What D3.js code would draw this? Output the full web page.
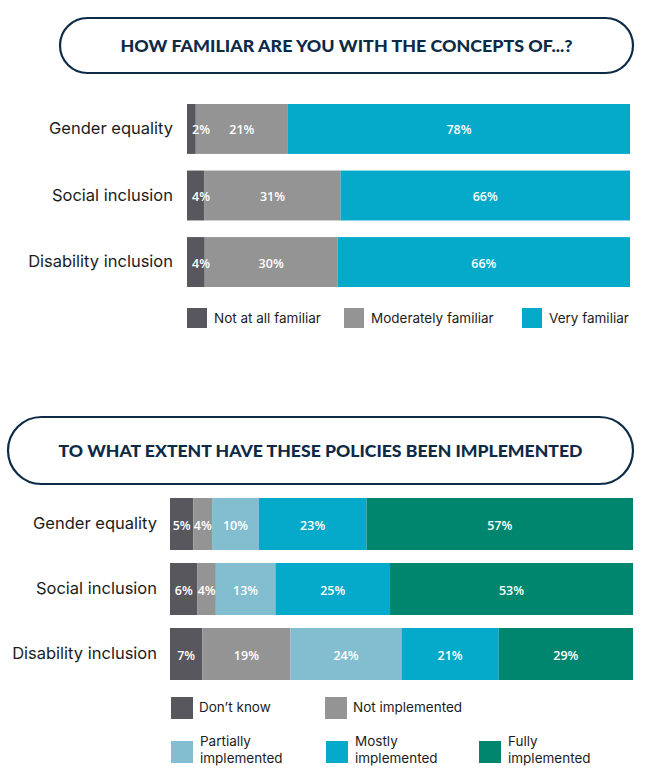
<!DOCTYPE html>
<html>
<head>
<meta charset="utf-8">
<script src="https://cdn.jsdelivr.net/npm/d3@7"></script>
<style>
  html, body { margin: 0; padding: 0; background: #fff; }
  svg { display: block; }
</style>
</head>
<body>
<svg id="chart" width="649" height="776"></svg>
<script>
// ---------- DATA ----------
const title1 = "HOW FAMILIAR ARE YOU WITH THE CONCEPTS OF...?";
const title2 = "TO WHAT EXTENT HAVE THESE POLICIES BEEN IMPLEMENTED";

const categories = ["Gender equality", "Social inclusion", "Disability inclusion"];

const familiarSeries = ["Not at all familiar", "Moderately familiar", "Very familiar"];
const notAtAllFamiliar = [2, 4, 4];
const moderatelyFamiliar = [21, 31, 30];
const veryFamiliar = [78, 66, 66];

const implSeries = ["Don\u2019t know", "Not implemented", "Partially implemented", "Mostly implemented", "Fully implemented"];
const dontKnow = [5, 6, 7];
const notImplemented = [4, 4, 19];
const partiallyImplemented = [10, 13, 24];
const mostlyImplemented = [23, 25, 21];
const fullyImplemented = [57, 53, 29];

// ---------- STYLE ----------
const navy = "#0d2b47";
const familiarColors = ["#57575d", "#949494", "#05a9c9"];
const implColors = ["#57575d", "#949494", "#82bdd0", "#05a9c9", "#00866f"];
const labelFont = "Inter, 'Noto Sans', sans-serif";
const valueFont = "'Open Sans', 'Noto Sans', sans-serif";

const svg = d3.select("#chart");

function pill(x, y, w, h, text, tl) {
  svg.append("rect")
    .attr("x", x).attr("y", y).attr("width", w).attr("height", h)
    .attr("rx", h / 2).attr("ry", h / 2)
    .attr("fill", "#fff").attr("stroke", navy).attr("stroke-width", 2.2);
  svg.append("text")
    .attr("x", x + w / 2).attr("y", y + h / 2)
    .attr("text-anchor", "middle").attr("dominant-baseline", "central")
    .attr("fill", navy)
    .attr("font-family", "Lato, 'Noto Sans', sans-serif")
    .attr("font-weight", 900).attr("font-size", 17.5)
    .attr("textLength", tl).attr("lengthAdjust", "spacingAndGlyphs")
    .text(text);
}

function stackedChart(opts) {
  const rows = categories.map((c, i) => {
    const o = { cat: c };
    opts.series.forEach((s, j) => { o[s] = opts.values[j][i]; });
    return o;
  });
  const stack = d3.stack().keys(opts.series).offset(d3.stackOffsetExpand);
  const layers = stack(rows);

  const x = d3.scaleLinear().domain([0, 1]).range(opts.xRange);
  const y = d3.scaleBand().domain(categories).range(opts.yRange).paddingInner(opts.pad);
  const color = d3.scaleOrdinal().domain(opts.series).range(opts.colors);

  const g = svg.append("g");
  const barG = g.append("g");
  const labG = g.append("g");
  layers.forEach((layer, j) => {
    barG.append("g").selectAll("rect").data(layer).join("rect")
      .attr("x", d => x(d[0]))
      .attr("y", d => y(d.data.cat))
      .attr("width", d => x(d[1]) - x(d[0]))
      .attr("height", y.bandwidth())
      .attr("fill", color(layer.key));
    labG.append("g").selectAll("text").data(layer).join("text")
      .attr("x", d => {
        const c = (x(d[0]) + x(d[1])) / 2;
        return j === 0 ? Math.max(c, x(d[0]) + opts.minLabelOffset) : c;
      })
      .attr("y", d => y(d.data.cat) + y.bandwidth() / 2 + 1)
      .attr("text-anchor", "middle").attr("dominant-baseline", "central")
      .attr("fill", "#fff")
      .attr("font-family", valueFont).attr("font-weight", 600)
      .attr("font-size", 12.5)
      .text(d => d.data[layer.key] + "%");
  });

  // category axis labels
  const axis = d3.axisLeft(y).tickSize(0).tickPadding(0);
  const ag = svg.append("g").attr("transform", `translate(${opts.labelX},0)`).call(axis);
  ag.select(".domain").remove();
  ag.selectAll("text")
    .attr("font-family", labelFont).attr("font-size", 16.5)
    .attr("fill", "#1c1c1c").attr("dy", "0.32em");

  return color;
}

// ---------- TOP CHART ----------
pill(60, 18, 573, 55, title1, 452);
const c1 = stackedChart({
  series: familiarSeries,
  values: [notAtAllFamiliar, moderatelyFamiliar, veryFamiliar],
  colors: familiarColors,
  xRange: [187, 630],
  yRange: [104, 287],
  pad: 0.25,
  labelX: 173,
  minLabelOffset: 14
});

const leg1X = [187, 344, 522];
familiarSeries.forEach((s, i) => {
  svg.append("rect").attr("x", leg1X[i]).attr("y", 308).attr("width", 20).attr("height", 20)
    .attr("fill", c1(s));
  svg.append("text").attr("x", leg1X[i] + 27).attr("y", 323)
    .attr("font-family", labelFont).attr("font-size", 13.5).attr("fill", "#1c1c1c")
    .text(s);
});

// ---------- BOTTOM CHART ----------
pill(8, 417, 625, 67, title2, 524);
const c2 = stackedChart({
  series: implSeries,
  values: [dontKnow, notImplemented, partiallyImplemented, mostlyImplemented, fullyImplemented],
  colors: implColors,
  xRange: [170, 633],
  yRange: [498, 680],
  pad: 0.2,
  labelX: 157,
  minLabelOffset: 0
});

const leg2Pos = [
  { x: 171, y: 697, lines: ["Don\u2019t know"] },
  { x: 325, y: 697, lines: ["Not implemented"] },
  { x: 171, y: 741, lines: ["Partially", "implemented"] },
  { x: 326, y: 741, lines: ["Mostly", "implemented"] },
  { x: 479, y: 741, lines: ["Fully", "implemented"] }
];
implSeries.forEach((s, i) => {
  const p = leg2Pos[i];
  svg.append("rect").attr("x", p.x).attr("y", p.y).attr("width", 22).attr("height", 22)
    .attr("fill", c2(s));
  const t = svg.append("text")
    .attr("font-family", labelFont).attr("font-size", 13.5).attr("fill", "#1c1c1c");
  if (p.lines.length === 1) {
    t.append("tspan").attr("x", p.x + 28).attr("y", p.y + 15).text(p.lines[0]);
  } else {
    t.append("tspan").attr("x", p.x + 29).attr("y", p.y + 5).text(p.lines[0]);
    t.append("tspan").attr("x", p.x + 29).attr("y", p.y + 22).text(p.lines[1]);
  }
});
</script>
</body>
</html>
